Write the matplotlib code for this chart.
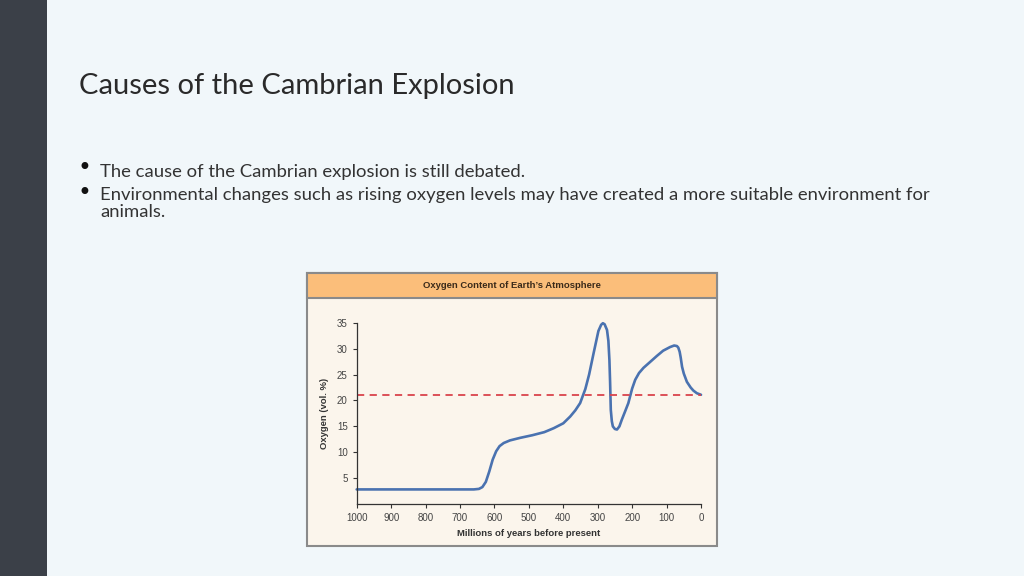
import matplotlib
matplotlib.use("Agg")
import matplotlib.pyplot as plt
from matplotlib.patches import Rectangle

# ---- data ----
years = [1000, 900, 800, 700, 660, 645, 635, 625, 615, 605, 595, 585, 573, 555, 525,
         490, 455, 428, 400, 380, 365, 351, 336, 325, 312, 298, 290, 285, 280, 273,
         269, 266, 264, 262, 259, 256, 250, 244, 237, 230, 221, 211, 200, 191, 180,
         167, 150, 128, 110, 90, 78, 70, 66, 62, 59, 55, 50, 41, 30, 22, 12, 0]
oxygen = [2.85, 2.85, 2.85, 2.85, 2.85, 2.95, 3.3, 4.3, 6.3, 8.6, 10.2, 11.2, 11.8, 12.3, 12.8,
          13.3, 13.9, 14.65, 15.6, 16.9, 18.1, 19.5, 22.2, 25.0, 29.1, 33.4, 34.6, 34.9, 34.7, 33.6,
          31.5, 27.8, 23.5, 18.2, 16.0, 15.0, 14.5, 14.4, 15.0, 16.3, 17.8, 19.5, 22.3, 24.0, 25.3,
          26.3, 27.3, 28.6, 29.6, 30.3, 30.6, 30.5, 30.2, 29.4, 28.3, 26.5, 25.2, 23.6, 22.5, 21.9, 21.4, 21.1]
present_level = 21.1
x_ticks = [1000, 900, 800, 700, 600, 500, 400, 300, 200, 100, 0]
y_ticks = [5, 10, 15, 20, 25, 30, 35]

title = "Causes of the Cambrian Explosion"
bullets = ["The cause of the Cambrian explosion is still debated.",
           "Environmental changes such as rising oxygen levels may have created a more suitable environment for\nanimals."]
chart_title = "Oxygen Content of Earth\u2019s Atmosphere"

W, H = 1024, 576
fig = plt.figure(figsize=(W / 100, H / 100), dpi=100)
fig.patch.set_facecolor("#F1F7FA")

def fx(px):
    return px / W

def fy(py):
    return 1 - py / H

# dark sidebar
fig.add_artist(Rectangle((0, 0), fx(47), 1, transform=fig.transFigure,
                         facecolor="#3B4048", edgecolor="none", zorder=-5))

# slide title and bullets
fig.text(fx(79), fy(86), title, fontsize=21, family="Lato", color="#2a2a2a",
         va="center", ha="left")
fig.text(fx(100), fy(172), bullets[0], fontsize=13.3, family="Lato", color="#333333",
         va="center", ha="left")
fig.text(fx(100), fy(187), bullets[1], fontsize=13.3, family="Lato", color="#333333",
         va="top", ha="left", linespacing=1.05)
for by in (168, 193):
    fig.text(fx(84), fy(by), "\u2022", fontsize=17, family="DejaVu Sans",
             color="#111111", va="center", ha="center")

# chart card
bx0, bx1, by0, by1 = 307, 717, 273, 546
fig.add_artist(Rectangle((fx(bx0), fy(by1)), fx(bx1 - bx0), (by1 - by0) / H,
                         transform=fig.transFigure, facecolor="#FBF5EC",
                         edgecolor="#8A8A8A", linewidth=1.5, zorder=-4))
fig.add_artist(Rectangle((fx(bx0), fy(298)), fx(bx1 - bx0), (298 - by0) / H,
                         transform=fig.transFigure, facecolor="#FBBE7A",
                         edgecolor="#8A8A8A", linewidth=1.5, zorder=-3))
fig.text(fx((bx0 + bx1) / 2), fy(286), chart_title, fontsize=6.8, fontweight="bold",
         family="Liberation Sans", color="#3a2a1a", ha="center", va="center")

# axes
ax = fig.add_axes([fx(356.7), fy(504.2), fx(701 - 356.7), (504.2 - 322.7) / H])
ax.set_zorder(5)
ax.set_facecolor("none")
ax.plot(years, oxygen, color="#4A72B0", linewidth=1.9, solid_capstyle="round",
        solid_joinstyle="round", clip_on=False)
ax.axhline(present_level, color="#D9434C", linewidth=1.3, linestyle=(0, (4, 3)))
ax.set_xlim(1000, 0)
ax.set_ylim(0, 35)
ax.set_xticks(x_ticks)
ax.set_xticklabels([str(v) for v in x_ticks])
ax.set_yticks(y_ticks)
ax.set_yticklabels([str(v) for v in y_ticks])
for s in ("top", "right"):
    ax.spines[s].set_visible(False)
for s in ("left", "bottom"):
    ax.spines[s].set_color("#333333")
    ax.spines[s].set_linewidth(0.9)
ax.tick_params(axis="both", labelsize=7, colors="#333333", length=3, width=0.8,
               labelcolor="#444444")
for lab in ax.get_xticklabels() + ax.get_yticklabels():
    lab.set_family("Liberation Sans")
ax.set_xlabel("Millions of years before present", fontsize=6.8, fontweight="bold",
              family="Liberation Sans", color="#333333", labelpad=4)
ax.set_ylabel("Oxygen (vol. %)", fontsize=6.8, fontweight="bold",
              family="Liberation Sans", color="#333333", labelpad=6)

fig.savefig("out.png", dpi=100, facecolor=fig.get_facecolor())
